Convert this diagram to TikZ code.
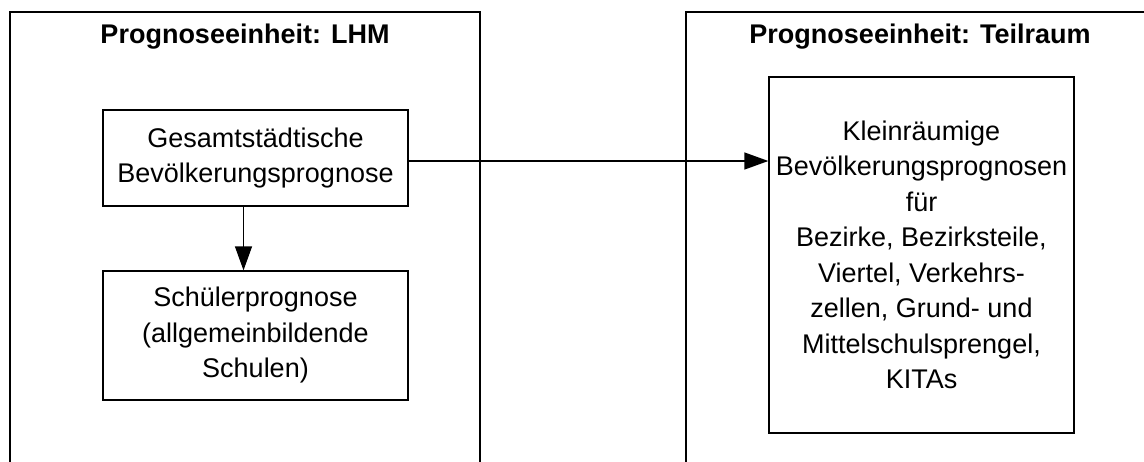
\documentclass[tikz,border=0pt]{standalone}
\usepackage{fontspec}
\setmainfont{Liberation Sans}
\usetikzlibrary{arrows.meta, positioning}

\tikzset{
    box/.style={draw, line width=1.3pt, inner sep=0pt, minimum width=305pt, align=center,
        font=\fontsize{27}{35.5}\selectfont},
    unit/.style={font=\fontsize{27}{33}\selectfont\bfseries},
    flow/.style={-{Triangle[length=24pt,width=17pt]}, line width=1.3pt}
}

\begin{document}
\begin{tikzpicture}[x=1pt, y=1pt]
    \useasboundingbox (0,0) rectangle (1144,-461);
    % frames of the two units
    \draw[line width=1.5pt] (10,-470) -- (10,-12) -- (480,-12) -- (480,-470);
    \draw[line width=1.5pt] (686,-470) -- (686,-12) -- (1150,-12);
    \node[unit] (titleL) at (245,-37) {Prognoseeinheit: LHM};
    \node[unit] (titleR) at (920,-37) {Prognoseeinheit: Teilraum};
    % boxes
    \node[box, minimum height=96pt] (gesamt) at (255.5,-158) {Gesamtstädtische\\Bevölkerungsprognose};
    \node[box, minimum height=129pt] (schueler) at (255.5,-335.5) {Schülerprognose\\(allgemeinbildende\\Schulen)};
    \node[box, minimum height=356pt] (klein) at (921.5,-255) {Kleinräumige\\Bevölkerungsprognosen\\für\\Bezirke, Bezirksteile,\\Viertel, Verkehrs-\\zellen, Grund- und\\Mittelschulsprengel,\\KITAs};
    % arrows
    \draw[flow] ([yshift=-3pt]gesamt.east) -- ([yshift=-3pt]gesamt.east -| klein.west);
    \draw[flow] ([xshift=-12pt]gesamt.south) -- ([xshift=-12pt]gesamt.south |- schueler.north);
\end{tikzpicture}
\end{document}
